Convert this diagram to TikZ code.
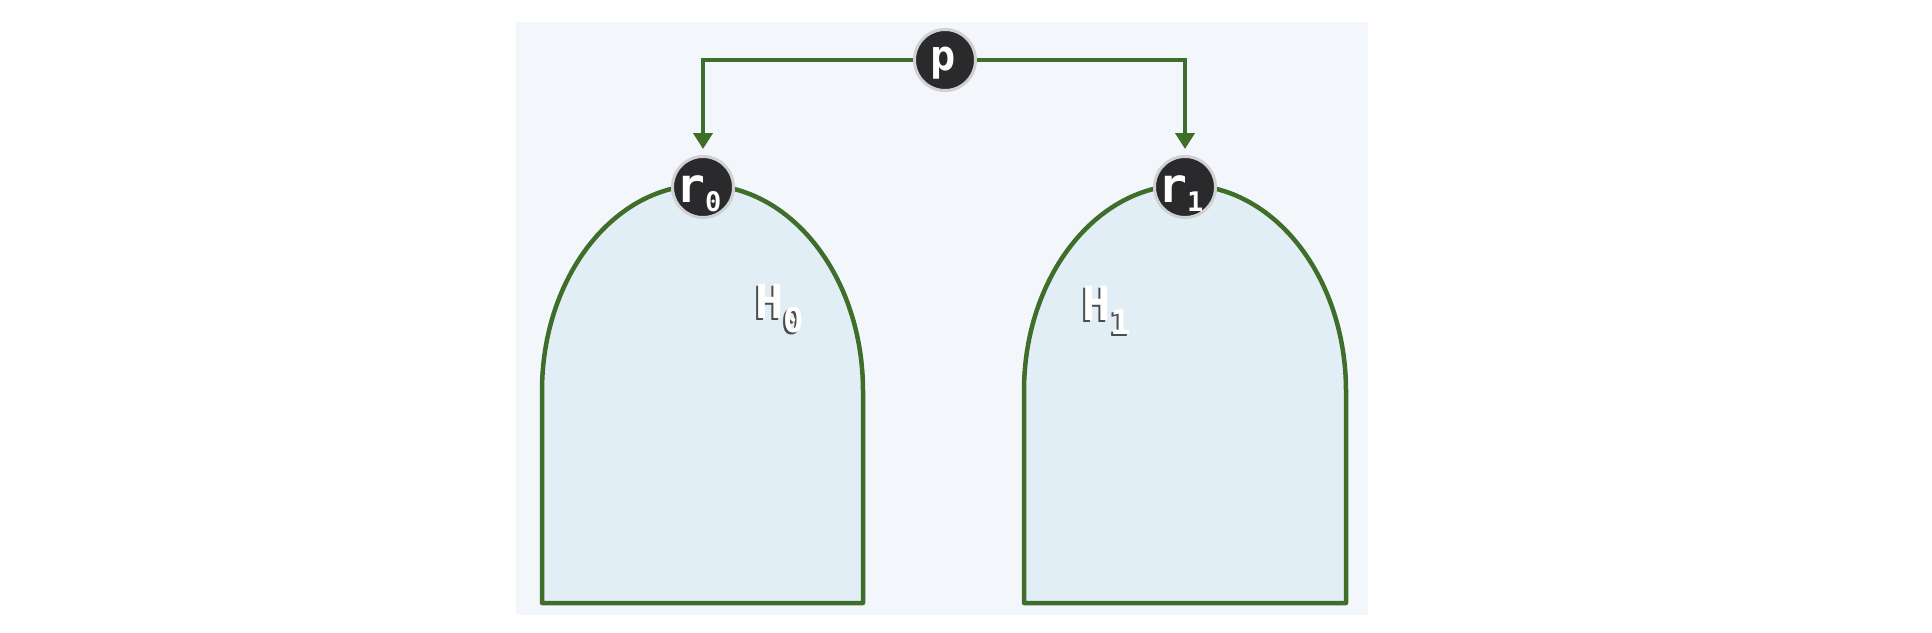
\documentclass[tikz,border=0pt]{standalone}
\usepackage{fontspec}
\setmonofont{DejaVu Sans Mono}
\usetikzlibrary{arrows.meta}
\definecolor{grn}{HTML}{3F6E2B}
\definecolor{panel}{HTML}{F3F7FB}
\definecolor{boxfill}{HTML}{E2EEF5}
\definecolor{nodedark}{HTML}{2A2A2C}
\newcommand{\vlab}[2]{{\fontsize{48}{48}\selectfont #1}\raisebox{-9pt}{\fontsize{27}{27}\selectfont #2}}
\newcommand{\hlabtext}[1]{{\fontsize{47}{47}\selectfont H}\raisebox{-14pt}{\fontsize{34}{34}\selectfont #1}}
\begin{document}
\begin{tikzpicture}[x=1pt,y=-1pt,
  vnode/.style={circle, fill=nodedark, draw=black!18, line width=3pt, minimum size=61pt, inner sep=0pt},
  vtext/.style={anchor=base west, inner sep=0pt, text=white, font=\ttfamily\bfseries},
  arch/.style={draw=grn, line width=4.5pt, fill=boxfill, line join=round},
  conn/.style={draw=grn, line width=4pt, -{Triangle[width=19pt,length=16pt]}, shorten >=6pt},
  hlab/.style={anchor=base west, inner sep=0pt, font=\ttfamily\bfseries, text=white},
  hshadow/.style={hlab, text=black!70}
]
\useasboundingbox (0,0) rectangle (1932,632);
\fill[panel] (516,22) rectangle (1368,615);
\draw[arch] (542,603) -- (542,391) arc[start angle=180,end angle=360,x radius=160.5,y radius=206] -- (863,603) -- cycle;
\draw[arch] (1024,603) -- (1024,391) arc[start angle=180,end angle=360,x radius=161,y radius=206] -- (1346,603) -- cycle;
\node[vnode] (p) at (945,60) {};
\node[vnode] (r0) at (703,187) {};
\node[vnode] (r1) at (1185,187) {};
\node[vtext] (pt) at (930,70) {\fontsize{42}{42}\selectfont p};
\node[vtext] (r0t) at (676,202) {\vlab{r}{0}};
\node[vtext] (r1t) at (1158,202) {\vlab{r}{1}};
\draw[conn] (p) -| (r0);
\draw[conn] (p) -| (r1);
\node[hshadow] (h0s) at (753,320) {\hlabtext{0}};
\node[hlab] (h0) at (755,318) {\hlabtext{0}};
\node[hshadow] (h1s) at (1080,322) {\hlabtext{1}};
\node[hlab] (h1) at (1082,320) {\hlabtext{1}};
\end{tikzpicture}
\end{document}
